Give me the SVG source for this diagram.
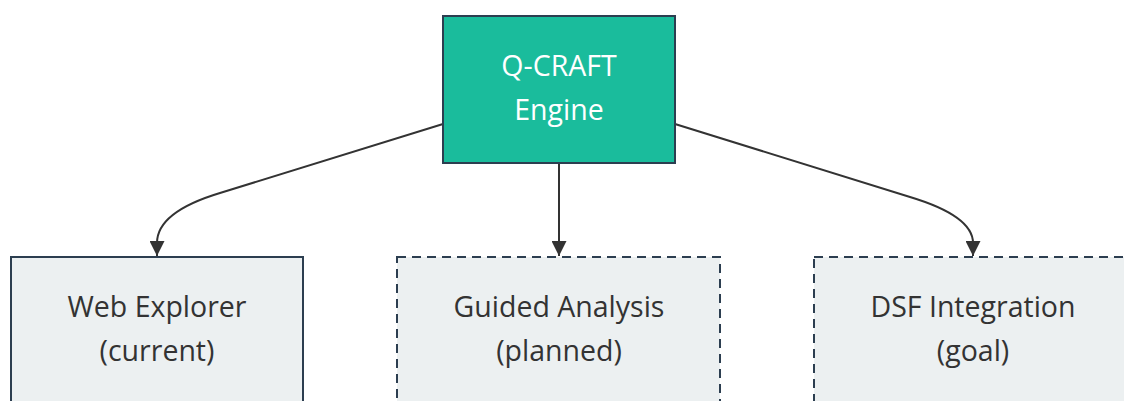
<svg xmlns="http://www.w3.org/2000/svg" width="1124" height="401" viewBox="0 0 1124 401">
<defs>
<style>
.edge{fill:none;stroke:#333333;stroke-width:2}
.box{fill:#ecf0f1;stroke:#2c3e50;stroke-width:2}
.dash{stroke-dasharray:9 6}
.lbl{font-family:"Open Sans","DejaVu Sans",sans-serif;font-size:28.5px;text-anchor:middle;fill:#333333}
.white{fill:#ffffff}
</style>
<marker id="arr" viewBox="0 0 10 10" refX="10" refY="5" markerWidth="7.5" markerHeight="7.5" markerUnits="strokeWidth" orient="auto">
<path d="M0,0 L10,5 L0,10 z" fill="#333333"/>
</marker>
</defs>
<rect width="1124" height="401" fill="#ffffff"/>
<g id="connectors">
<path class="edge" d="M443,124 L220,193 Q157,212 157,243 L157,256" marker-end="url(#arr)"/>
<path class="edge" d="M559,163 L559,256" marker-end="url(#arr)"/>
<path class="edge" d="M675,124 L910,197 Q973,216 973,243 L973,256" marker-end="url(#arr)"/>
</g>
<g id="engine">
<rect x="443" y="16" width="232" height="147" fill="#1abc9c" stroke="#2c3e50" stroke-width="2"/>
<text class="lbl white" x="559" y="76">Q-CRAFT</text>
<text class="lbl white" x="559" y="120">Engine</text>
</g>
<g id="web">
<rect class="box" x="11" y="257" width="292" height="160"/>
<text class="lbl" x="157" y="317">Web Explorer</text>
<text class="lbl" x="157" y="361">(current)</text>
</g>
<g id="guided">
<rect class="box dash" x="397" y="257" width="323" height="160"/>
<text class="lbl" x="559" y="317">Guided Analysis</text>
<text class="lbl" x="559" y="361">(planned)</text>
</g>
<g id="dsf">
<rect class="box dash" x="814" y="257" width="318" height="160"/>
<text class="lbl" x="973" y="317">DSF Integration</text>
<text class="lbl" x="973" y="361">(goal)</text>
</g>
</svg>
